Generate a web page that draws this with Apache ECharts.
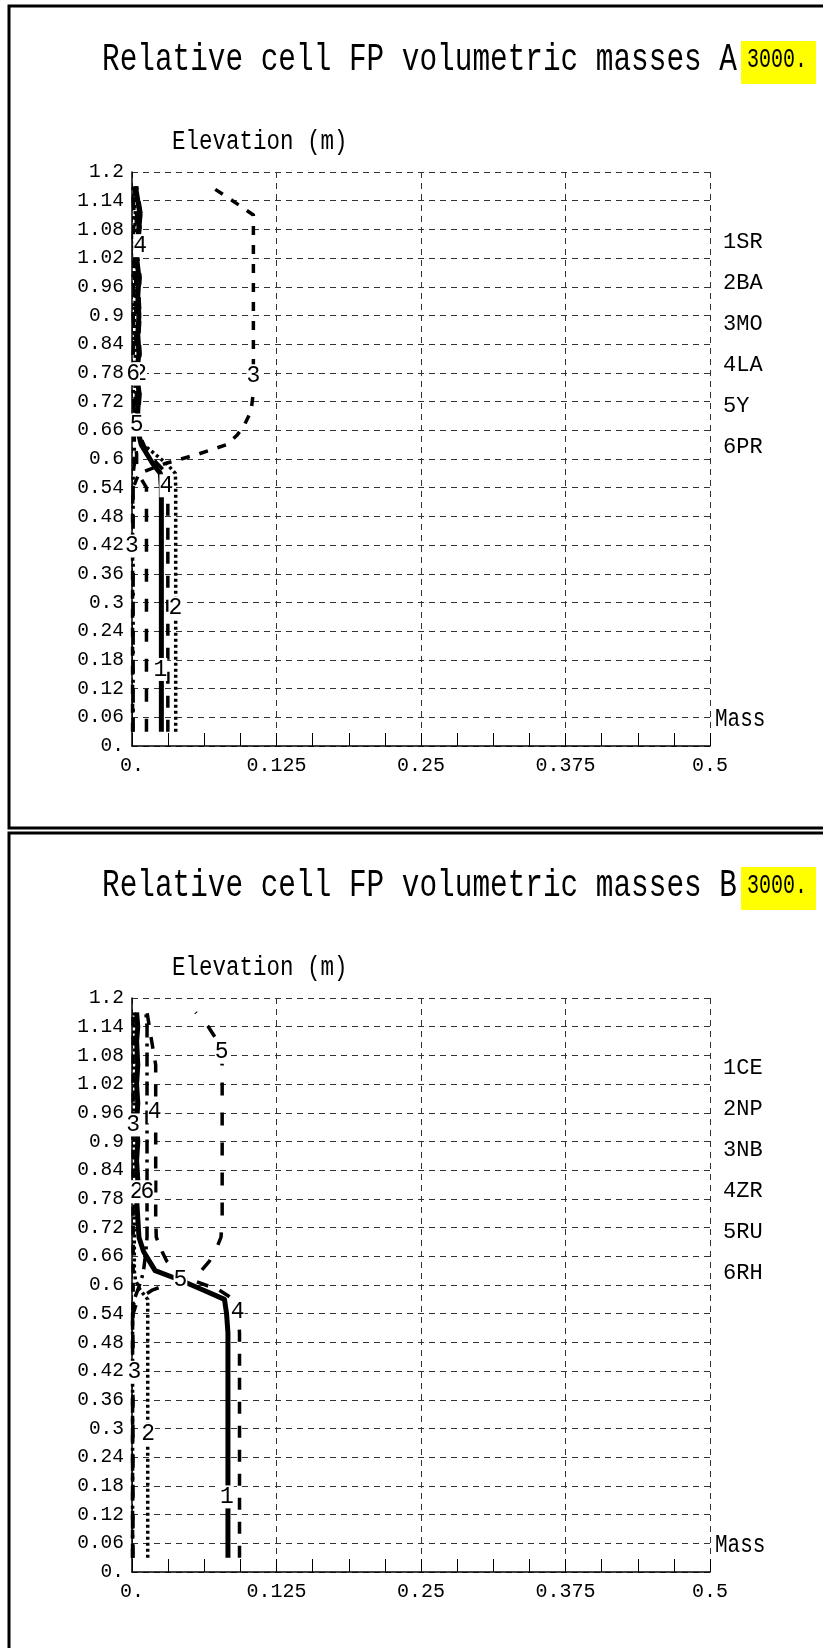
<!DOCTYPE html>
<html>
<head>
<meta charset="utf-8">
<script src="https://cdn.jsdelivr.net/npm/echarts@6/dist/echarts.min.js"></script>
<style>
  html, body { margin: 0; padding: 0; background: #fff; }
  #chart { width: 823px; height: 1648px; }
</style>
</head>
<body>
<div id="chart"></div>
<script>
// Elevation nodes (m) shared by every mass profile
const ELEV = [0.03, 0.10, 0.20, 0.30, 0.40, 0.50, 0.54, 0.57, 0.59, 0.61, 0.63, 0.65, 0.67,
              0.70, 0.74, 0.78, 0.82, 0.86, 0.90, 0.94, 0.98, 1.02, 1.06, 1.11, 1.14, 1.17];

// Panel A : fission products SR, BA, MO, LA, Y, PR
const A_NAMES = ['SR', 'BA', 'MO', 'LA', 'Y', 'PR'];
const A_SR = [0.0254, 0.0254, 0.0254, 0.0254, 0.0254, 0.0254, 0.0254, 0.0245, 0.018, 0.013, 0.008, 0.006, 0.005,
              0.005, 0.006, 0.004, 0.006, 0.005, 0.006, 0.005, 0.006, 0.004, 0.005, 0.007, 0.005, 0.003];
const A_BA = [0.0378, 0.0378, 0.0378, 0.0378, 0.0378, 0.0378, 0.0378, 0.0375, 0.030, 0.020, 0.010, 0.005, 0.003,
              0.002, 0.003, 0.002, 0.003, 0.002, 0.002, 0.003, 0.002, 0.003, 0.002, 0.003, 0.002, 0.002];
const A_MO = [0.0005, 0.0005, 0.0005, 0.0005, 0.0005, 0.0005, 0.001, 0.006, 0.028, 0.057, 0.082, 0.091, 0.097,
              0.103, 0.105, 0.105, 0.105, 0.105, 0.105, 0.105, 0.105, 0.105, 0.105, 0.105, 0.087, 0.068];
const A_LA = [0.031, 0.031, 0.031, 0.031, 0.031, 0.031, 0.031, 0.030, 0.022, 0.015, 0.010, 0.007, 0.006,
              0.006, 0.007, 0.005, 0.007, 0.006, 0.007, 0.006, 0.007, 0.005, 0.006, 0.008, 0.006, 0.004];
const A_Y  = [0.0125, 0.0125, 0.0125, 0.0125, 0.0125, 0.0125, 0.0125, 0.005, 0.004, 0.004, 0.003, 0.003, 0.003,
              0.003, 0.004, 0.003, 0.004, 0.003, 0.003, 0.004, 0.003, 0.004, 0.003, 0.004, 0.003, 0.002];
const A_PR = [0.001, 0.001, 0.001, 0.001, 0.001, 0.001, 0.001, 0.001, 0.002, 0.002, 0.002, 0.002, 0.001,
              0.002, 0.001, 0.002, 0.001, 0.002, 0.001, 0.002, 0.001, 0.002, 0.001, 0.002, 0.001, 0.001];
// curve numbers written along the profiles: [curve, mass, elevation]
const A_TAGS = [[1, 0.0245, 0.16], [2, 0.0375, 0.288], [2, 0.007, 0.778], [3, 0.0, 0.418], [3, 0.105, 0.774],
                [4, 0.0297, 0.544], [4, 0.007, 1.046], [5, 0.004, 0.671], [6, 0.001, 0.778]];

// Panel B : fission products CE, NP, NB, ZR, RU, RH
const B_NAMES = ['CE', 'NP', 'NB', 'ZR', 'RU', 'RH'];
const B_CE = [0.083, 0.083, 0.083, 0.083, 0.083, 0.083, 0.0818, 0.080, 0.061, 0.042, 0.020, 0.015, 0.010,
              0.006, 0.005, 0.004, 0.005, 0.004, 0.005, 0.004, 0.005, 0.004, 0.005, 0.004, 0.005, 0.004];
const B_NP = [0.0136, 0.0136, 0.0136, 0.0136, 0.0136, 0.0136, 0.0136, 0.0136, 0.007, 0.003, 0.002, 0.002, 0.002,
              0.002, 0.002, 0.002, 0.002, 0.002, 0.002, 0.002, 0.002, 0.002, 0.002, 0.002, 0.002, 0.002];
const B_NB = [0.0005, 0.0005, 0.0005, 0.0005, 0.0005, 0.0005, 0.0005, 0.001, 0.001, 0.001, 0.001, 0.001, 0.001,
              0.001, 0.001, 0.001, 0.001, 0.001, 0.001, 0.001, 0.001, 0.001, 0.001, 0.001, 0.001, 0.001];
const B_ZR = [0.093, 0.093, 0.093, 0.093, 0.093, 0.093, 0.092, 0.088, 0.075, 0.052, 0.038, 0.030, 0.026,
              0.021, 0.0205, 0.0205, 0.0205, 0.0205, 0.0205, 0.0205, 0.0205, 0.0205, 0.0205, 0.017, 0.015, 0.013];
const B_RU = [0.0008, 0.0008, 0.0008, 0.0008, 0.0008, 0.0008, 0.001, 0.005, 0.018, 0.042, 0.060, 0.067, 0.072,
              0.077, 0.078, 0.078, 0.078, 0.078, 0.078, 0.078, 0.078, 0.078, 0.078, 0.074, 0.066, 0.055];
const B_RH = [0.0005, 0.0005, 0.0005, 0.0005, 0.0005, 0.0005, 0.0005, 0.002, 0.005, 0.008, 0.010, 0.011, 0.012,
              0.013, 0.013, 0.013, 0.013, 0.013, 0.013, 0.013, 0.013, 0.013, 0.013, 0.013, 0.013, 0.012];
const B_TAGS = [[1, 0.082, 0.157], [2, 0.0139, 0.2885], [2, 0.004, 0.795], [3, 0.002, 0.4175], [3, 0.001, 0.9346],
                [4, 0.0914, 0.544], [4, 0.0196, 0.962], [5, 0.0419, 0.6105], [5, 0.0776, 1.0866], [6, 0.0133, 0.795]];

// Axis ticks
const MASS_MAX = 0.5, MASS_STEP = 0.125;
const ELEV_MAX = 1.2, ELEV_STEP = 0.06;

const PANELS = [
  { title: 'Relative cell FP volumetric masses A', time: '3000.', names: A_NAMES,
    masses: [A_SR, A_BA, A_MO, A_LA, A_Y, A_PR], tags: A_TAGS },
  { title: 'Relative cell FP volumetric masses B', time: '3000.', names: B_NAMES,
    masses: [B_CE, B_NP, B_NB, B_ZR, B_RU, B_RH], tags: B_TAGS }
];

const FONT = '"Liberation Mono", "DejaVu Sans Mono", monospace';
const PANEL_DY = 826;          // vertical offset of the second panel
const GRID_TOP = 172, GRID_LEFT = 132, GRID_W = 578, GRID_H = 574;

// one line pattern per curve number
const LINE_STYLES = [
  { width: 5,   type: 'solid' },
  { width: 3.5, type: [3, 3] },
  { width: 3.5, type: [9, 10] },
  { width: 3.5, type: [12, 12] },
  { width: 3.5, type: [13, 17] },
  { width: 3.5, type: [14, 6, 3, 6] }
];

function fmt(v) {
  if (Math.abs(v) < 1e-9) return '0.';
  return String(parseFloat(v.toFixed(4)));
}

const gridLine = { show: true, lineStyle: { color: '#333', width: 1, type: [6, 5] } };

const grids = [], xAxes = [], yAxes = [], series = [], legends = [], graphics = [];

PANELS.forEach((p, i) => {
  const dy = i * PANEL_DY;
  grids.push({ left: GRID_LEFT, top: GRID_TOP + dy, width: GRID_W, height: GRID_H });
  xAxes.push({
    gridIndex: i, type: 'value', min: 0, max: MASS_MAX, interval: MASS_STEP,
    axisLine: { show: true, onZero: false, lineStyle: { color: '#000', width: 1.5 } },
    axisTick: { show: true, inside: true, length: 13, lineStyle: { color: '#000', width: 1 } },
    minorTick: { show: true, splitNumber: 4, length: 13, lineStyle: { color: '#000', width: 1 } },
    splitLine: gridLine,
    axisLabel: { formatter: fmt, color: '#000', fontFamily: FONT, fontSize: 20, margin: 10 }
  });
  yAxes.push({
    gridIndex: i, type: 'value', min: 0, max: ELEV_MAX, interval: ELEV_STEP,
    axisLine: { show: true, onZero: false, lineStyle: { color: '#000', width: 1.5 } },
    axisTick: { show: false },
    splitLine: gridLine,
    axisLabel: { formatter: fmt, color: '#000', fontFamily: FONT, fontSize: 19.5, margin: 8 }
  });

  p.masses.forEach((m, k) => {
    series.push({
      type: 'line', name: p.names[k], xAxisIndex: i, yAxisIndex: i,
      data: ELEV.map((e, j) => [m[j], e]),
      symbol: 'none', showSymbol: false, animation: false, silent: true, z: 3,
      lineStyle: Object.assign({ color: '#000', cap: 'butt', join: 'round' }, LINE_STYLES[k]),
      itemStyle: { color: '#000' }
    });
  });

  series.push({
    type: 'scatter', xAxisIndex: i, yAxisIndex: i, z: 6, animation: false, silent: true,
    data: p.tags.map(t => ({ value: [t[1], t[2]], name: String(t[0]) })),
    symbolSize: 1, itemStyle: { color: '#fff', opacity: 1 },
    label: {
      show: true, position: 'inside', formatter: d => d.name, color: '#000',
      textBorderWidth: 0, fontFamily: FONT, fontSize: 23, backgroundColor: '#fff', padding: [0, 0]
    }
  });

  legends.push({
    orient: 'vertical', left: 713, top: 226 + dy, itemGap: 19,
    icon: 'none', itemWidth: 0, itemHeight: 0, selectedMode: false,
    data: p.names,
    formatter: n => (p.names.indexOf(n) + 1) + n,
    textStyle: { fontFamily: FONT, fontSize: 22, color: '#000' }
  });

  // panel frame
  graphics.push({ type: 'rect', silent: true, z: 1,
    shape: { x: 9, y: (i === 0 ? 6 : 833), width: 860, height: (i === 0 ? 822 : 840) },
    style: { fill: null, stroke: '#000', lineWidth: 3 } });
  // title
  graphics.push({ type: 'text', x: 102, y: 60 + dy, scaleY: 1.3, z: 10,
    style: { text: p.title, font: '29.4px ' + FONT, fill: '#000', textVerticalAlign: 'middle' } });
  graphics.push({ type: 'rect', z: 10, shape: { x: 741, y: 41 + dy, width: 75, height: 43 },
    style: { fill: '#ffff00' } });
  graphics.push({ type: 'text', x: 747, y: 60 + dy, scaleY: 1.4, z: 11,
    style: { text: p.time, font: '20px ' + FONT, fill: '#000', textVerticalAlign: 'middle' } });
  // axis names
  graphics.push({ type: 'text', x: 172, y: 142 + dy, scaleY: 1.25, z: 10,
    style: { text: 'Elevation (m)', font: '22.5px ' + FONT, fill: '#000', textVerticalAlign: 'middle' } });
  graphics.push({ type: 'text', x: 715, y: 719 + dy, scaleY: 1.25, z: 10,
    style: { text: 'Mass', font: '21px ' + FONT, fill: '#000', textVerticalAlign: 'middle' } });
});

const chart = echarts.init(document.getElementById('chart'), null, { renderer: 'canvas' });
chart.setOption({
  animation: false,
  backgroundColor: '#fff',
  grid: grids, xAxis: xAxes, yAxis: yAxes,
  legend: legends,
  series: series,
  graphic: graphics
});
</script>
</body>
</html>
